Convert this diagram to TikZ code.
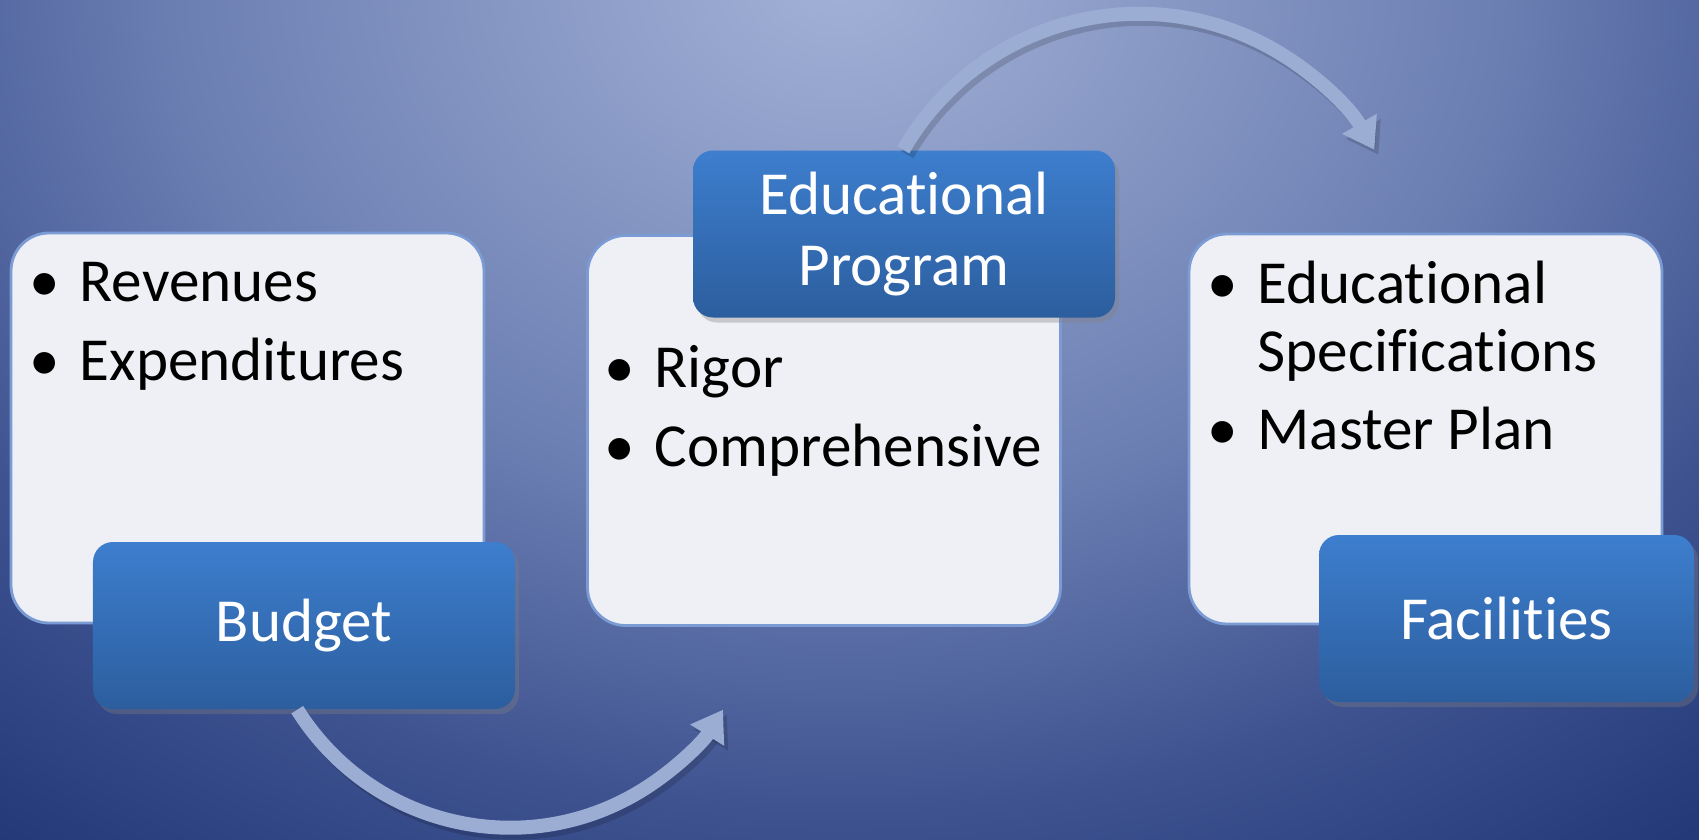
\documentclass[tikz,border=0pt]{standalone}
\usepackage{fontspec}
\setmainfont{Carlito}[RawFeature={-liga}]
\usepackage{xcolor}
\usepackage{tikz}
\usetikzlibrary{arrows.meta}
\usetikzlibrary{shadows}

\definecolor{bglight}{HTML}{A2B1D6}
\definecolor{bgmid}{HTML}{6B7EB2}
\definecolor{bgdeep}{HTML}{3E5290}
\definecolor{bgdark}{HTML}{1E3473}
\definecolor{boxfill}{HTML}{EFF0F6}
\definecolor{boxedge}{HTML}{7B9BD4}
\definecolor{topictop}{HTML}{3D7ECE}
\definecolor{topicbot}{HTML}{2C5E9E}
\definecolor{flowcol}{HTML}{9CADD3}

\pgfdeclareradialshading{bgglow}{\pgfpoint{0bp}{0bp}}{color(0bp)=(bglight); color(14bp)=(bgmid); color(22bp)=(bgdeep); color(30bp)=(bgdark); color(50bp)=(bgdark)}

\begin{document}
\begin{tikzpicture}
	[listbox/.style={draw=boxedge, line width=0.8pt, fill=boxfill, rounded corners=0.38cm,
		minimum width=4.73cm, minimum height=3.9cm, inner sep=0pt},
	topic/.style={rounded corners=0.2cm, top color=topictop, bottom color=topicbot, text=white,
		minimum height=1.67cm, inner sep=0pt, align=center, font=\fontsize{17.4}{20.2}\selectfont,
		drop shadow={shadow xshift=0.04cm, shadow yshift=-0.05cm, opacity=0.35}},
	entry/.style={anchor=base west, inner sep=0pt, font=\fontsize{17.4}{20}\selectfont},
	flow/.style={line width=0.14cm, draw=flowcol, -{Triangle[width=0.38cm,length=0.3cm]}},
	flowshade/.style={line width=0.14cm, draw=black, opacity=0.15, -{Triangle[width=0.38cm,length=0.3cm]}}]

	\useasboundingbox (0,0) rectangle (16.99,8.39);

	% background glow
	\begin{scope}
		\clip (0,0) rectangle (16.99,8.39);
		\shade[shading=bgglow] (-3.6,-0.9) rectangle (20.4,18.1);
	\end{scope}

	% white boxes
	\node[listbox] (money) at (2.475,4.11) {};
	\node[listbox] (rigor) at (8.24,4.085) {};
	\node[listbox] (plans) at (14.255,4.10) {};

	% blue title boxes
	\node[topic, minimum width=4.22cm] (budget) at (3.04,2.135) {Budget};
	\node[topic, minimum width=4.22cm] (edprog) at (9.04,6.05) {Educational\\Program};
	\node[topic, minimum width=3.75cm] (facil) at (15.065,2.205) {Facilities};

	% bullet items
	\node[entry] (rev) at (0.79,5.38) {\llap{\textbullet\hspace{0.2cm}}Revenues};
	\node[entry] (exp) at (0.79,4.59) {\llap{\textbullet\hspace{0.2cm}}Expenditures};

	\node[entry] (rig) at (6.54,4.52) {\llap{\textbullet\hspace{0.2cm}}Rigor};
	\node[entry] (comp) at (6.54,3.73) {\llap{\textbullet\hspace{0.2cm}}Comprehensive};

	\node[entry] (spec) at (12.57,5.36) {\llap{\textbullet\hspace{0.2cm}}Educational};
	\node[entry] (spec2) at (12.57,4.68) {Specifications};
	\node[entry] (master) at (12.57,3.90) {\llap{\textbullet\hspace{0.2cm}}Master Plan};

	% curved arrows
	\draw[flowshade] ([xshift=2.09cm,yshift=-0.05cm]budget.south west)
		arc[start angle=212, end angle=328, radius=2.51cm];
	\draw[flow] ([xshift=2.05cm]budget.south west)
		arc[start angle=212, end angle=328, radius=2.51cm];

	\draw[flowshade] ([xshift=2.15cm,yshift=-0.05cm]edprog.north west)
		arc[start angle=150, end angle=30, radius=2.72cm];
	\draw[flow] ([xshift=2.11cm]edprog.north west)
		arc[start angle=150, end angle=30, radius=2.72cm];

\end{tikzpicture}
\end{document}
